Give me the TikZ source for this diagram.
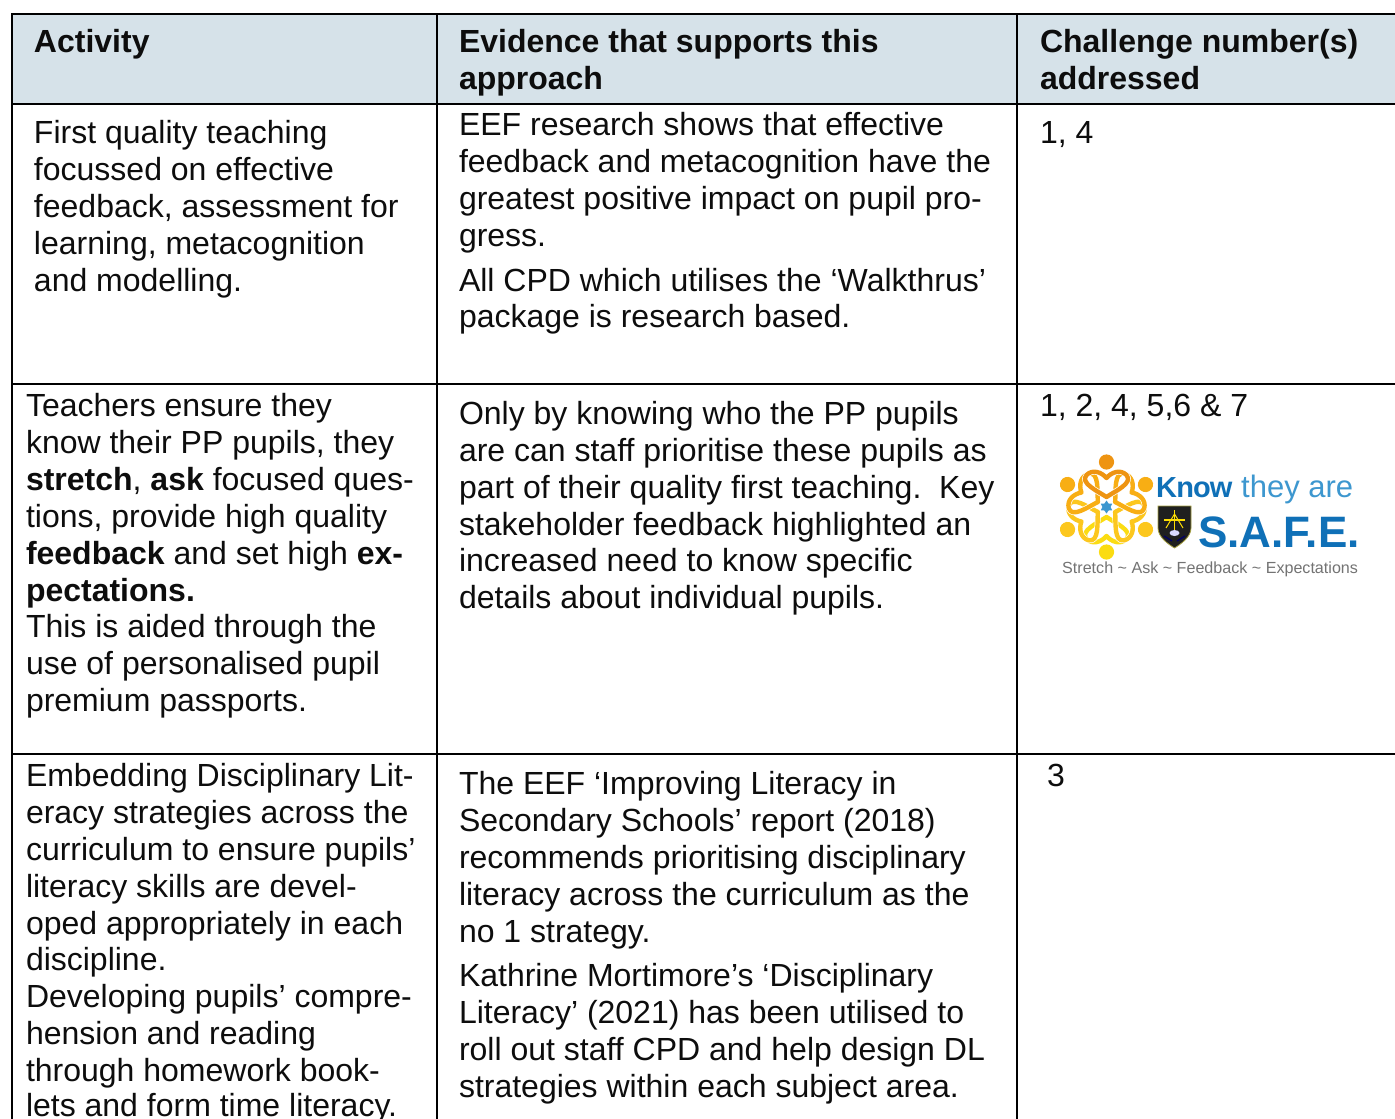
\documentclass[tikz,border=0pt]{standalone}
\usepackage{fontspec}
\usetikzlibrary{shapes.geometric}
\setmainfont{Liberation Sans}
\tikzset{
  tx/.style={anchor=base west,inner sep=0pt,outer sep=0pt,font=\fontsize{32}{37}\selectfont,text=black!95},
  hd/.style={tx,font=\fontsize{32}{37}\selectfont\bfseries},
  rule/.style={line width=2pt,black},
  person/.style={line width=4.4pt,line cap=round,line join=round}
}
\definecolor{headfill}{HTML}{D6E2E9}
\definecolor{blueA}{HTML}{0F70B7}
\definecolor{blueB}{HTML}{3D97CF}
\definecolor{pA}{HTML}{EE9412}
\definecolor{pB}{HTML}{F8AE14}
\definecolor{pC}{HTML}{FCC71E}
\definecolor{pD}{HTML}{FBDC12}
\newcommand{\logoperson}[2]{%
  \begin{scope}[shift={(1106.5,507)},rotate=#1]
    \fill[#2] (0,-45) circle (7.6);
    \draw[person,white,line width=5.8pt] (0,-10) .. controls (-9,-16) and (-27,-24) .. (-20,-32) .. controls (-14,-38) and (-5,-35) .. (0,-29) .. controls (5,-35) and (14,-38) .. (20,-32) .. controls (27,-24) and (9,-16) .. (0,-10);
    \draw[person,#2] (0,-10) .. controls (-9,-16) and (-27,-24) .. (-20,-32) .. controls (-14,-38) and (-5,-35) .. (0,-29) .. controls (5,-35) and (14,-38) .. (20,-32) .. controls (27,-24) and (9,-16) .. (0,-10);
  \end{scope}}
\begin{document}
\begin{tikzpicture}[x=1pt,y=-1pt]
\useasboundingbox (0,0) rectangle (1395,1119);
\fill[white] (0,0) rectangle (1395,1119);
\fill[headfill] (12,14) rectangle (1395,104);
\draw[rule] (1395,14) -- (12,14) -- (12,1119);
\draw[rule] (12,104) -- (1395,104);
\draw[rule] (12,384) -- (1395,384);
\draw[rule] (12,754) -- (1395,754);
\draw[rule] (437,14) -- (437,1119);
\draw[rule] (1017,14) -- (1017,1119);
% header
\node[hd] (h1) at (34,52) {Activity};
\node[hd] (h2) at (459,52) {Evidence that supports this};
\node[hd] (h2b) at (459,89) {approach};
\node[hd] (h3) at (1040,52) {Challenge number(s)};
\node[hd] (h3b) at (1040,89) {addressed};
% row 1
\node[tx] (a1) at (34,143) {First quality teaching};
\node[tx] (a2) at (34,180) {focussed on effective};
\node[tx] (a3) at (34,217) {feedback, assessment for};
\node[tx] (a4) at (34,254) {learning, metacognition};
\node[tx] (a5) at (34,291) {and modelling.};
\node[tx] (b1) at (459,135) {EEF research shows that effective};
\node[tx] (b2) at (459,172) {feedback and metacognition have the};
\node[tx] (b3) at (459,209) {greatest positive impact on pupil pro-};
\node[tx] (b4) at (459,246) {gress.};
\node[tx] (b5) at (459,291) {All CPD which utilises the ‘Walkthrus’};
\node[tx] (b6) at (459,327) {package is research based.};
\node[tx] (c1) at (1040,143) {1, 4};
% row 2
\node[tx] (d1) at (26,416) {Teachers ensure they};
\node[tx] (d2) at (26,453) {know their PP pupils, they};
\node[tx] (d3) at (26,490) {\textbf{stretch}, \textbf{ask} focused ques-};
\node[tx] (d4) at (26,527) {tions, provide high quality};
\node[tx] (d5) at (26,564) {\textbf{feedback} and set high \textbf{ex-}};
\node[tx] (d6) at (26,601) {\textbf{pectations.}};
\node[tx] (d7) at (26,637) {This is aided through the};
\node[tx] (d8) at (26,674) {use of personalised pupil};
\node[tx] (d9) at (26,711) {premium passports.};
\node[tx] (e1) at (459,424) {Only by knowing who the PP pupils};
\node[tx] (e2) at (459,461) {are can staff prioritise these pupils as};
\node[tx] (e3) at (459,498) {part of their quality first teaching.\ \ Key};
\node[tx] (e4) at (459,535) {stakeholder feedback highlighted an};
\node[tx] (e5) at (459,571) {increased need to know specific};
\node[tx] (e6) at (459,608) {details about individual pupils.};
\node[tx] (f1) at (1040,416) {1, 2, 4, 5,6 \& 7};
% logo
\logoperson{180}{pD}
\logoperson{120}{pC}
\logoperson{-120}{pC}
\logoperson{60}{pB}
\logoperson{-60}{pB}
\logoperson{0}{pA}
\node[star,star points=6,star point ratio=1.6,fill=blueB,minimum size=13pt,inner sep=0pt] (st) at (1106.5,507) {};
\node[anchor=base west,inner sep=0pt,font=\fontsize{29}{30}\selectfont] (k1) at (1156,497) {\addfontfeature{LetterSpace=-3}\bfseries\color{blueA}Know};
\node[anchor=base west,inner sep=0pt,font=\fontsize{31}{32}\selectfont,text=blueB] (k2) at (1241,497) {they are};
\node[anchor=base west,inner sep=0pt,font=\fontsize{44}{48}\selectfont\bfseries,text=blueA] (k3) at (1198,547) {S.A.F.E.};
\node[anchor=base west,inner sep=0pt,font=\fontsize{16.1}{17}\selectfont,text=black!55] (k4) at (1062,573) {Stretch \textasciitilde{} Ask \textasciitilde{} Feedback \textasciitilde{} Expectations};
\draw[fill=black!88,draw=yellow!60!black,line width=0.8pt] (1158,506) -- (1191,506) -- (1191,528) .. controls (1191,537) and (1181,544) .. (1174.5,548) .. controls (1168,544) and (1158,537) .. (1158,528) -- cycle;
\draw[yellow!80!orange,line width=1.4pt] (1164,520) -- (1185,520) (1174.5,510) -- (1174.5,530);
\draw[yellow!80!orange,line width=1pt] (1166,528) -- (1174.5,514) -- (1183,528);
\fill[white!85!blue] (1174.5,533) ellipse (5 and 3);
\draw[blue!40!black,line width=1.2pt] (1164,536) -- (1172,541) (1185,536) -- (1177,541);
% row 3
\node[tx] (g1) at (26,786) {Embedding Disciplinary Lit-};
\node[tx] (g2) at (26,823) {eracy strategies across the};
\node[tx] (g3) at (26,860) {curriculum to ensure pupils’};
\node[tx] (g4) at (26,897) {literacy skills are devel-};
\node[tx] (g5) at (26,934) {oped appropriately in each};
\node[tx] (g6) at (26,970) {discipline.};
\node[tx] (g7) at (26,1007) {Developing pupils’ compre-};
\node[tx] (g8) at (26,1044) {hension and reading};
\node[tx] (g9) at (26,1081) {through homework book-};
\node[tx] (g10) at (26,1116) {lets and form time literacy.};
\node[tx] (i1) at (459,794) {The EEF ‘Improving Literacy in};
\node[tx] (i2) at (459,831) {Secondary Schools’ report (2018)};
\node[tx] (i3) at (459,868) {recommends prioritising disciplinary};
\node[tx] (i4) at (459,905) {literacy across the curriculum as the};
\node[tx] (i5) at (459,942) {no 1 strategy.};
\node[tx] (i6) at (459,986) {Kathrine Mortimore’s ‘Disciplinary};
\node[tx] (i7) at (459,1023) {Literacy’ (2021) has been utilised to};
\node[tx] (i8) at (459,1060) {roll out staff CPD and help design DL};
\node[tx] (i9) at (459,1097) {strategies within each subject area.};
\node[tx] (j1) at (1047,786) {3};
\end{tikzpicture}
\end{document}
